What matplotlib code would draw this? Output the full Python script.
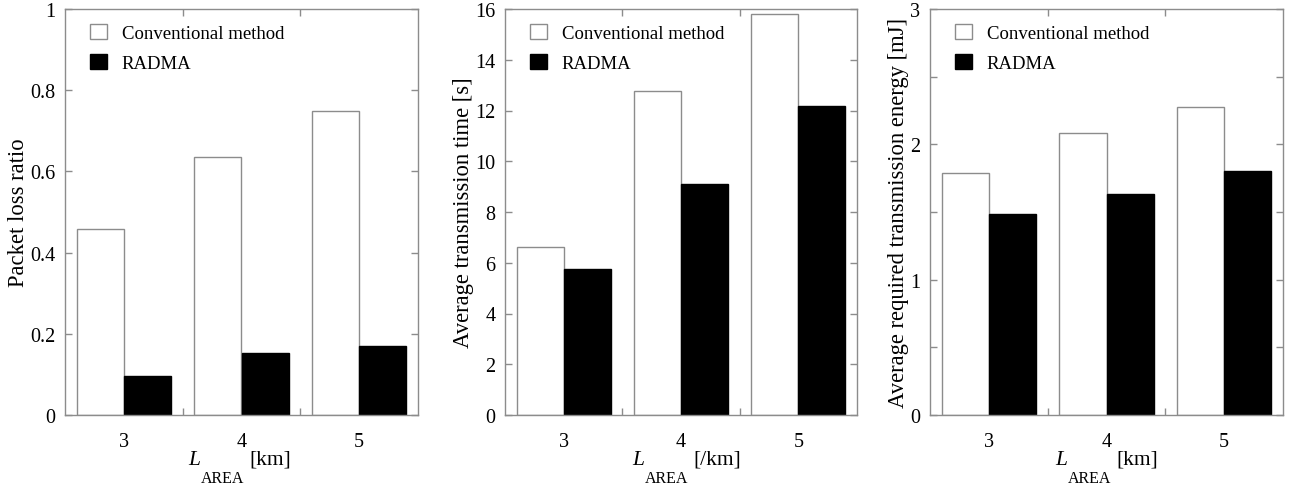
import matplotlib
matplotlib.use("Agg")
import matplotlib.pyplot as plt
import numpy as np
from matplotlib.patches import Patch
from matplotlib.transforms import IdentityTransform

plt.rcParams['font.family'] = ['Liberation Serif', 'DejaVu Serif']

categories = [3, 4, 5]
series_names = ["Conventional method", "RADMA"]

loss_conv = [0.459, 0.635, 0.749]
loss_radma = [0.096, 0.153, 0.170]

time_conv = [6.63, 12.78, 15.79]
time_radma = [5.75, 9.11, 12.19]

energy_conv = [1.788, 2.084, 2.273]
energy_radma = [1.483, 1.633, 1.800]

ylabels = ["Packet loss ratio", "Average transmission time [s]",
           "Average required transmission energy [mJ]"]
xlabel_var = "L"
xlabel_sub = "AREA"
xlabel_units = ["[km]", "[/km]", "[km]"]

GRAY = "#8c8c8c"
W, H = 1299, 485
fig = plt.figure(figsize=(W / 100, H / 100), dpi=100)

positions = [(65, 418), (505, 857), (930, 1283)]
label_left = [188, 632, 1055]
bottom = 1 - 416 / H
top = 1 - 10 / H

panels = [
    (loss_conv, loss_radma, (0, 1), np.arange(0, 1.01, 0.2), None,
     ["0", "0.2", "0.4", "0.6", "0.8", "1"]),
    (time_conv, time_radma, (0, 16), np.arange(0, 16.1, 2), None,
     [str(v) for v in range(0, 17, 2)]),
    (energy_conv, energy_radma, (0, 3), np.arange(0, 3.1, 1), np.arange(0.5, 3, 1),
     ["0", "1", "2", "3"]),
]

x = np.array(categories, dtype=float)
w = 0.4
renderer = fig.canvas.get_renderer()
for i, ((l, r), (conv, radma, ylim, yt, ymin, ytl)) in enumerate(zip(positions, panels)):
    ax = fig.add_axes([l / W, bottom, (r - l) / W, top - bottom])
    ax.bar(x - w / 2, conv, width=w, color="white", edgecolor=GRAY, linewidth=1.0,
           label=series_names[0], zorder=2)
    ax.bar(x + w / 2, radma, width=w, color="black", edgecolor="black", linewidth=1.0,
           label=series_names[1], zorder=2)
    ax.set_xlim(2.5, 5.5)
    ax.set_ylim(*ylim)
    ax.set_xticks(categories)
    ax.set_xticklabels([str(c) for c in categories])
    ax.set_xticks([3.5, 4.5], minor=True)
    ax.set_yticks(yt)
    ax.set_yticklabels(ytl)
    if ymin is not None:
        ax.set_yticks(ymin, minor=True)
    ax.tick_params(axis='x', which='major', length=0, pad=12, labelsize=14.5)
    ax.tick_params(axis='x', which='minor', length=5, direction='in', top=True,
                   bottom=True, color=GRAY, width=1)
    ax.tick_params(axis='y', which='both', length=5, direction='in', left=True,
                   right=True, color=GRAY, width=1, labelsize=14.5, pad=7)
    for s in ax.spines.values():
        s.set_color(GRAY)
        s.set_linewidth(1.0)
    ax.set_ylabel(ylabels[i], fontsize=16.3, labelpad=1)

    handles = [Patch(facecolor="white", edgecolor=GRAY, linewidth=1.0),
               Patch(facecolor="black", edgecolor="black", linewidth=1.0)]
    ax.legend(handles, series_names, loc="upper left", frameon=False, fontsize=13.5,
              bbox_to_anchor=(25 / (r - l), 1 - 15 / 406), borderaxespad=0, borderpad=0,
              handlelength=0.9, handleheight=0.85,
              handletextpad=0.8, labelspacing=0.66)

    # x label: italic L, subscript AREA, units
    x0 = label_left[i]
    t1 = fig.text(x0, H - 465, xlabel_var, fontsize=15.5, style='italic',
                  ha='left', va='baseline', transform=IdentityTransform())
    bb1 = t1.get_window_extent(renderer)
    t2 = fig.text(bb1.x1 + 1, H - 483, xlabel_sub, fontsize=11.5,
                  ha='left', va='baseline', transform=IdentityTransform())
    bb2 = t2.get_window_extent(renderer)
    fig.text(bb2.x1 + 5, H - 465, xlabel_units[i], fontsize=15.5,
             ha='left', va='baseline', transform=IdentityTransform())

fig.savefig("out.png", dpi=100)
